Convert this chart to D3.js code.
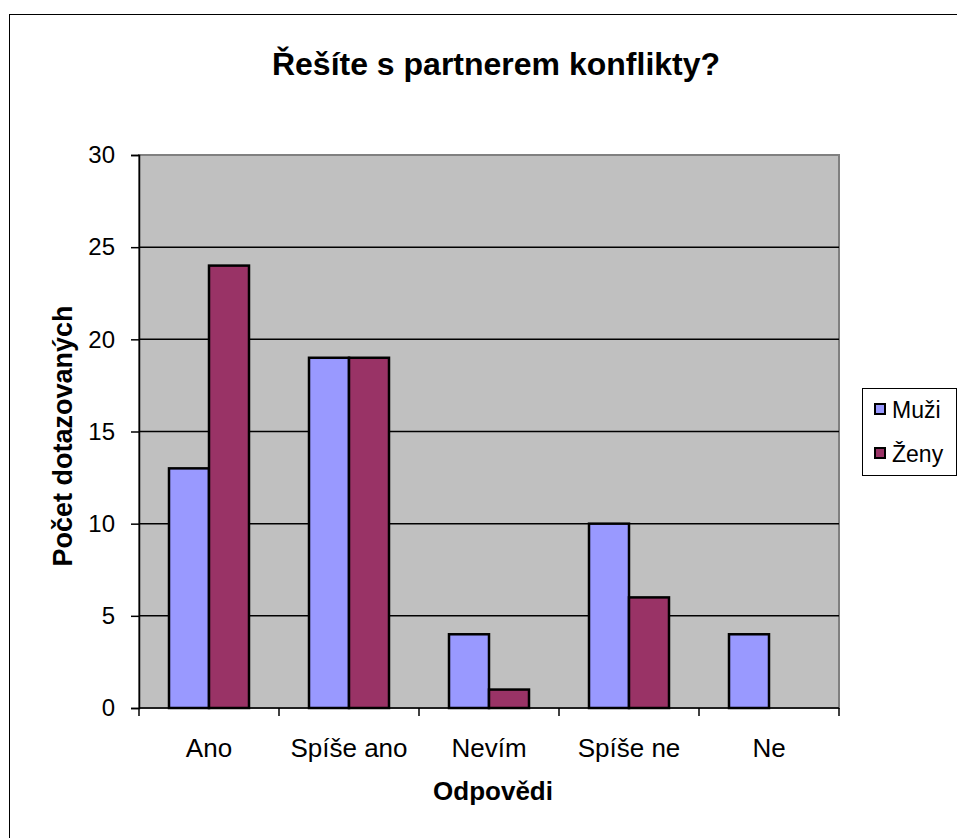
<!DOCTYPE html>
<html>
<head>
<meta charset="utf-8">
<script src="https://cdn.jsdelivr.net/npm/d3@7"></script>
<style>
  body { margin: 0; background: white; }
  text { font-family: 'Liberation Sans', Arial, sans-serif; fill: black; }
</style>
</head>
<body>
<div id="chart"></div>
<script>
// Chart data
const categories = ["Ano", "Spíše ano", "Nevím", "Spíše ne", "Ne"];
const seriesNames = ["Muži", "Ženy"];
const muziValues = [13, 19, 4, 10, 4];
const zenyValues = [24, 19, 1, 6, 0];
const yTicks = [0, 5, 10, 15, 20, 25, 30];
const seriesColors = ["#9999FF", "#993366"];

// Layout
const width = 957, height = 838;
const plot = {left: 139, right: 839, top: 155, bottom: 708};

const svg = d3.select("#chart").append("svg")
  .attr("width", width)
  .attr("height", height);

// Outer chart border
svg.append("rect")
  .attr("x", 9.5)
  .attr("y", 14.5)
  .attr("width", 980)
  .attr("height", 860)
  .attr("fill", "white")
  .attr("stroke", "black")
  .attr("stroke-width", 1);

// Scales
const x0 = d3.scaleBand()
  .domain(categories)
  .range([plot.left, plot.right])
  .padding(0);

const x1 = d3.scaleBand()
  .domain(seriesNames)
  .range([x0.bandwidth() * 30 / 140, x0.bandwidth() * 110 / 140])
  .padding(0);

const y = d3.scaleLinear()
  .domain([0, 30])
  .range([plot.bottom, plot.top]);

// Plot area background
svg.append("rect")
  .attr("x", plot.left)
  .attr("y", plot.top)
  .attr("width", plot.right - plot.left)
  .attr("height", plot.bottom - plot.top)
  .attr("fill", "#C0C0C0")
  .attr("stroke", "#808080")
  .attr("stroke-width", 2);

// Gridlines
svg.append("g")
  .selectAll("line")
  .data(yTicks.filter(d => d > 0 && d < 30))
  .join("line")
  .attr("x1", plot.left)
  .attr("x2", plot.right)
  .attr("y1", d => y(d))
  .attr("y2", d => y(d))
  .attr("stroke", "black")
  .attr("stroke-width", 1.5);

// Bars
const rows = categories.map((c, i) => ({cat: c, values: [muziValues[i], zenyValues[i]]}));

const groups = svg.append("g")
  .selectAll("g")
  .data(rows)
  .join("g")
  .attr("transform", d => `translate(${x0(d.cat)},0)`);

groups.selectAll("rect")
  .data(d => d.values.map((v, j) => ({name: seriesNames[j], value: v, color: seriesColors[j]})).filter(d => d.value > 0))
  .join("rect")
  .attr("x", d => x1(d.name))
  .attr("y", d => y(d.value))
  .attr("width", x1.bandwidth())
  .attr("height", d => y(0) - y(d.value))
  .attr("fill", d => d.color)
  .attr("stroke", "black")
  .attr("stroke-width", 2.5);

// Y axis
const yAxis = svg.append("g")
  .attr("transform", `translate(${plot.left},0)`)
  .call(d3.axisLeft(y).tickValues(yTicks).tickSize(8).tickPadding(16));

yAxis.select(".domain").attr("stroke", "black").attr("stroke-width", 1.5);
yAxis.selectAll(".tick line").attr("stroke", "black").attr("stroke-width", 1.5);
yAxis.selectAll(".tick text")
  .attr("font-family", "'Liberation Sans', Arial, sans-serif")
  .attr("font-size", "24px")
  .attr("fill", "black");

// X axis line and ticks at category boundaries
svg.append("line")
  .attr("x1", plot.left)
  .attr("x2", plot.right)
  .attr("y1", plot.bottom)
  .attr("y2", plot.bottom)
  .attr("stroke", "black")
  .attr("stroke-width", 1.5);

const boundaries = categories.map(c => x0(c)).concat([x0(categories[categories.length - 1]) + x0.bandwidth()]);
svg.append("g")
  .selectAll("line")
  .data(boundaries)
  .join("line")
  .attr("x1", d => d)
  .attr("x2", d => d)
  .attr("y1", plot.bottom)
  .attr("y2", plot.bottom + 8)
  .attr("stroke", "black")
  .attr("stroke-width", 1.5);

svg.append("g")
  .selectAll("text")
  .data(categories)
  .join("text")
  .attr("x", d => x0(d) + x0.bandwidth() / 2)
  .attr("y", 757)
  .attr("text-anchor", "middle")
  .attr("font-size", "26px")
  .text(d => d);

// Title
svg.append("text")
  .attr("x", 496)
  .attr("y", 75)
  .attr("text-anchor", "middle")
  .attr("font-size", "32px")
  .attr("font-weight", "bold")
  .text("Řešíte s partnerem konflikty?");

// Axis titles
svg.append("text")
  .attr("x", (plot.left + plot.right) / 2 + 4)
  .attr("y", 800)
  .attr("text-anchor", "middle")
  .attr("font-size", "26px")
  .attr("font-weight", "bold")
  .text("Odpovědi");

svg.append("text")
  .attr("transform", "translate(72,436) rotate(-90)")
  .attr("text-anchor", "middle")
  .attr("font-size", "27px")
  .attr("font-weight", "bold")
  .text("Počet dotazovaných");

// Legend
const legend = svg.append("g");
legend.append("rect")
  .attr("x", 862.5)
  .attr("y", 388.5)
  .attr("width", 94)
  .attr("height", 87)
  .attr("fill", "white")
  .attr("stroke", "black")
  .attr("stroke-width", 1);

const legendItems = legend.selectAll("g")
  .data(seriesNames)
  .join("g")
  .attr("transform", (d, i) => `translate(875,${404 + i * 44})`);

legendItems.append("rect")
  .attr("x", 0)
  .attr("y", 0)
  .attr("width", 10)
  .attr("height", 10)
  .attr("fill", (d, i) => seriesColors[i])
  .attr("stroke", "black")
  .attr("stroke-width", 2);

legendItems.append("text")
  .attr("x", 17)
  .attr("y", 14)
  .attr("font-size", "23px")
  .text(d => d);
</script>
</body>
</html>
